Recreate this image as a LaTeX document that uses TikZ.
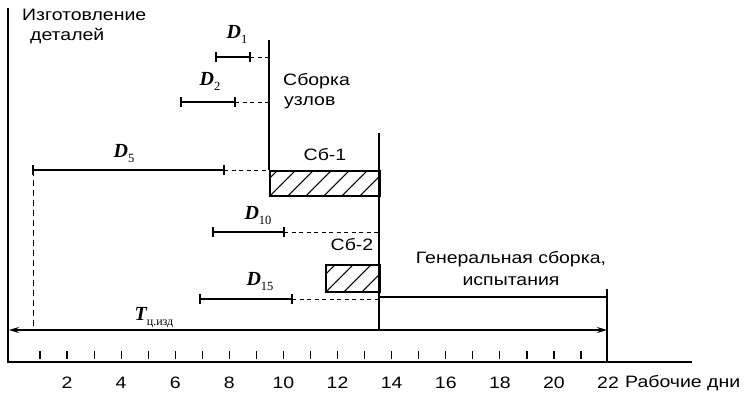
\documentclass[tikz,border=0pt]{standalone}
\usepackage{fontspec}
\usetikzlibrary{arrows.meta}
\setmainfont[FakeStretch=1.18]{Liberation Sans}
\newfontfamily\serifD{Liberation Serif}
\newcommand\Dlab[1]{{\serifD\bfseries\itshape D}\raisebox{-5pt}{\serifD\fontsize{12.5}{12}\selectfont #1}}
\begin{document}
\begin{tikzpicture}[x=1pt,y=-1pt,
  ax/.style={line width=1.3pt},
  bar/.style={line width=1.9pt},
  tk/.style={line width=1.2pt},
  dsh/.style={line width=0.9pt, dash pattern=on 4pt off 3.5pt},
  lbl/.style={font=\fontsize{16.5}{20}\selectfont, inner sep=0pt, align=left},
  num/.style={font=\fontsize{16.5}{16}\selectfont, inner sep=0pt},
  dl/.style={font=\fontsize{20}{20}\selectfont, inner sep=0pt},
  hatchbox/.style={draw, line width=1.8pt, inner sep=0pt, anchor=north west,
    path picture={\foreach \i in {-2,...,8}{\draw[line width=1.1pt]
      ([xshift=\i*18pt]path picture bounding box.south west) -- ++(40pt,40pt);}}},
]
\useasboundingbox (0,0) rectangle (750,397);

% axes
\coordinate (o) at (8,362);
\coordinate (ytop) at (8,8);
\coordinate (xend) at (692,362);
\draw[ax] (ytop) -- (o) -- (xend);

% ticks and numbers
\foreach \d in {1,...,21}{
  \draw[tk] ({40+(\d-1)*27.05},351) -- ({40+(\d-1)*27.05},359);
}
\foreach \d in {2,4,...,22}{
  \node[num] (n\d) at ({40+(\d-1)*27.05},383) {\d};
}
\node[num, anchor=west] (rd) at (625,383) {Рабочие дни};

% top-left label
\node[lbl, anchor=north west] (izg) at (22,9) {Изготовление\\ \hspace*{8pt}деталей};

% Сборка узлов
\coordinate (su1) at (269,40);
\node[hatchbox, minimum width=110pt, minimum height=25pt] (sb1) at (269,170) {};
\draw[ax] (su1) -- (sb1.north west);
\node[lbl, anchor=west] (sbu) at (283,91) {Сборка\\\hspace*{1pt}узлов};
\node[lbl] (sb1l) at (325,155) {Сб-1};

% D1
\coordinate (d1a) at (216,57); \coordinate (d1b) at (250,57); \coordinate (d1c) at (269,57);
\draw[bar] (d1a) -- (d1b); \draw[dsh] (d1b) -- (d1c);
\draw[tk] ([yshift=5pt]d1a) -- ([yshift=-5pt]d1a);
\draw[tk] ([yshift=5pt]d1b) -- ([yshift=-5pt]d1b);
\node[dl] (D1) at (237,34) {\Dlab{1}};

% D2
\coordinate (d2a) at (181,102); \coordinate (d2b) at (235,102); \coordinate (d2c) at (269,102);
\draw[bar] (d2a) -- (d2b); \draw[dsh] (d2b) -- (d2c);
\draw[tk] ([yshift=5pt]d2a) -- ([yshift=-5pt]d2a);
\draw[tk] ([yshift=5pt]d2b) -- ([yshift=-5pt]d2b);
\node[dl] (D2) at (210,81) {\Dlab{2}};

% D5
\coordinate (d5a) at (33,170); \coordinate (d5b) at (224,170);
\draw[bar] (d5a) -- (d5b); \draw[dsh] (d5b) -- (sb1.north west);
\draw[tk] ([yshift=5pt]d5a) -- ([yshift=-5pt]d5a);
\draw[tk] ([yshift=5pt]d5b) -- ([yshift=-5pt]d5b);
\node[dl] (D5) at (124,154) {\Dlab{5}};

% right vertical line at 13.5
\coordinate (v1) at (379,133);
\coordinate (v2) at (379,330);
\draw[ax] (v1) -- (v2);

% D10
\coordinate (d10a) at (213,232); \coordinate (d10b) at (284,232); \coordinate (d10c) at (379,232);
\draw[bar] (d10a) -- (d10b); \draw[dsh] (d10b) -- (d10c);
\draw[tk] ([yshift=5pt]d10a) -- ([yshift=-5pt]d10a);
\draw[tk] ([yshift=5pt]d10b) -- ([yshift=-5pt]d10b);
\node[dl] (D10) at (258,216) {\Dlab{10}};

% Сб-2
\node[hatchbox, minimum width=54pt, minimum height=27pt] (sb2) at (325,264) {};
\node[lbl] (sb2l) at (352,245) {Сб-2};

% D15
\coordinate (d15a) at (200,299); \coordinate (d15b) at (292,299); \coordinate (d15c) at (379,299);
\draw[bar] (d15a) -- (d15b); \draw[dsh] (d15b) -- (d15c);
\draw[tk] ([yshift=5pt]d15a) -- ([yshift=-5pt]d15a);
\draw[tk] ([yshift=5pt]d15b) -- ([yshift=-5pt]d15b);
\node[dl] (D15) at (260,282) {\Dlab{15}};

% general assembly
\coordinate (g1) at (379,297);
\coordinate (g2) at (607,297);
\coordinate (g3) at (607,289);
\coordinate (g4) at (607,362);
\draw[ax] (g1) -- (g2);
\draw[ax] (g3) -- (g4);
\node[lbl, align=center, font=\fontsize{16.5}{22}\selectfont] (gen) at (511,269) {Генеральная сборка,\\испытания};

% dashed vertical from D5 start
\coordinate (tl) at (33,330);
\draw[dsh, dash pattern=on 6pt off 4pt] (d5a) -- (tl);

% T arrow
\coordinate (ta) at (9,330);
\coordinate (tb) at (607,330);
\draw[ax, {Stealth[length=10pt,width=6pt]}-{Stealth[length=10pt,width=6pt]}] (ta) -- (tb);
\node[dl] (T) at (154,318) {{\serifD\bfseries\itshape T}\raisebox{-5pt}{\serifD\fontsize{12}{12}\selectfont ц.изд}};
\end{tikzpicture}
\end{document}
